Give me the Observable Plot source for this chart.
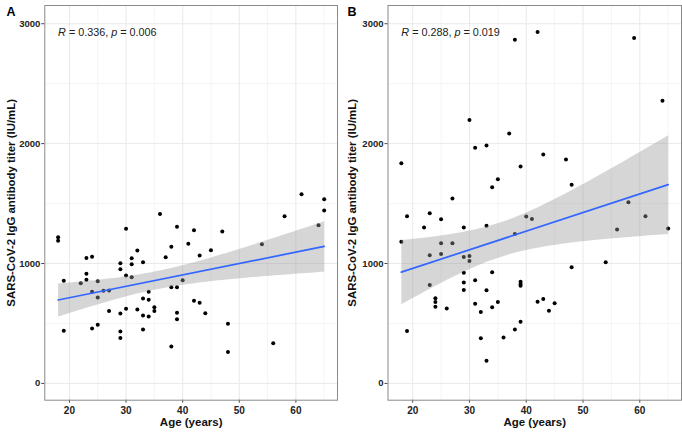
<!DOCTYPE html>
<html><head><meta charset="utf-8">
<script src="https://cdn.jsdelivr.net/npm/d3@7"></script>
<script src="https://cdn.jsdelivr.net/npm/@observablehq/plot@0.6"></script>
<style>
body{margin:0;background:#fff;}
#fig{display:flex;width:682px;height:434px;background:#fff;}
#fig svg g[aria-label="y-axis tick label"] text,
#fig svg g[aria-label="x-axis tick label"] text{font-weight:bold;}
</style></head><body><div id="fig"></div>
<script>
// ---- data ----
const agesA = [18,18,19,19,22,23,23,23,24,24,24,25,25,25,26,27,27,29,29,29,29,29,30,30,30,31,31,31,32,32,33,33,33,33,34,34,34,35,35,36,37,38,38,38,39,39,39,39,40,41,42,42,43,43,44,45,47,48,48,54,56,58,61,64,65,65];
const titerA = [1220,1190,856,439,836,1047,914,864,1056,764,458,853,717,489,772,775,603,1003,953,583,433,378,1289,900,622,1044,994,886,1108,617,1011,708,567,450,764,697,558,636,603,1414,1053,1139,803,308,1306,803,589,536,861,1164,1278,689,1067,672,586,1111,1267,497,261,1161,336,1395,1578,1320,1536,1442];

const agesB = [18,18,19,19,22,23,23,23,24,24,24,25,25,25,26,27,27,29,29,29,29,29,30,30,30,31,31,31,32,32,33,33,33,33,34,34,34,35,35,36,37,38,38,38,39,39,39,39,39,40,41,42,42,43,43,44,45,47,48,48,54,56,58,59,61,64,65];
const titerB = [1836,1182,1395,437,1301,1420,1068,820,710,678,639,1370,1169,1080,625,1542,1169,1301,1055,924,841,780,2198,1062,1022,1965,860,665,595,376,1984,1316,777,190,1636,927,636,1703,680,382,2084,2866,1247,450,1809,848,830,814,515,1393,1372,2930,681,1909,704,607,668,1867,1658,968,1011,1283,1510,2880,1395,2357,1292];

const panelLetters = ["A", "B"];
const statR = ["0.336", "0.288"];
const statP = ["0.006", "0.019"];
const xTicks = [20, 30, 40, 50, 60];
const xMinor = [25, 35, 45, 55, 65];
const yTicks = [0, 1000, 2000, 3000];
const yMinor = [500, 1500, 2500];
const xTitle = "Age (years)";
const yTitle = "SARS-CoV-2 IgG antibody titer (IU/mL)";
const labelAge = 18, labelTiter = 2930;

const FONT = "'Liberation Sans', Arial, Helvetica, sans-serif";

function panel(ages, titers, letter, r, p, mLeft, mRight) {
  const data = ages.map((a, i) => ({age: a, titer: titers[i]}));
  const label = [{x: labelAge, y: labelTiter, t: `R = ${r}, p = ${p}`}];
  const svg = Plot.plot({
    width: 341, height: 434,
    marginLeft: mLeft, marginRight: mRight, marginTop: 5, marginBottom: 34.3,
    style: {fontFamily: FONT, fontSize: "9.5px", color: "#222", background: "#fff", overflow: "visible"},
    x: {domain: [15.65, 67.35]},
    y: {domain: [-140, 3152]},
    marks: [
      Plot.gridX(xMinor, {stroke: "#f3f3f3", strokeOpacity: 1, strokeWidth: 0.8}),
      Plot.gridY(yMinor, {stroke: "#f3f3f3", strokeOpacity: 1, strokeWidth: 0.8}),
      Plot.gridX(xTicks, {stroke: "#e9e9e9", strokeOpacity: 1, strokeWidth: 1}),
      Plot.gridY(yTicks, {stroke: "#e9e9e9", strokeOpacity: 1, strokeWidth: 1}),
      Plot.axisX({ticks: xTicks, tickFormat: d => String(d), tickSize: 3, tickPadding: 3.5, label: null, stroke: "#444", fill: "#222", fontSize: 10}),
      Plot.axisY({ticks: yTicks, tickFormat: d => String(d), tickSize: 3, tickPadding: 1.5, label: null, stroke: "#444", fill: "#222", fontSize: 9.5}),
      Plot.dot(data, {x: "age", y: "titer", r: 2, fill: "#000", stroke: "none"}),
      Plot.linearRegressionY(data, {x: "age", y: "titer", stroke: "#3366FF", strokeWidth: 1.7, fill: "#999999", fillOpacity: 0.4, ci: 0.95}),
      Plot.text(label, {x: "x", y: "y", text: "t", textAnchor: "start", lineAnchor: "middle", fontSize: 10.8, fill: "#222"}),
      Plot.text([letter], {text: d => d, frameAnchor: "top-left", dx: 6 - mLeft, dy: 6.5, textAnchor: "start", lineAnchor: "middle", fontSize: 12.5, fontWeight: "bold", fill: "#000"}),
      Plot.text([xTitle], {text: d => d, frameAnchor: "bottom", dy: 22.5, textAnchor: "middle", lineAnchor: "middle", fontSize: 11.5, fontWeight: "bold", fill: "#111"}),
      Plot.text([yTitle], {text: d => d, frameAnchor: "left", dx: 10.5 - mLeft, rotate: -90, textAnchor: "middle", lineAnchor: "middle", fontSize: 11.4, fontWeight: "bold", fill: "#111"}),
      Plot.frame({stroke: "#8a8a8a", strokeWidth: 1})
    ]
  });
  // italicise R and p in the statistic label
  d3.select(svg).selectAll("text").each(function() {
    const t = this.textContent;
    if (t.startsWith("R = ")) {
      const sel = d3.select(this);
      sel.text(null);
      sel.append("tspan").attr("font-style", "italic").text("R");
      sel.append("tspan").text(` = ${r}, `);
      sel.append("tspan").attr("font-style", "italic").text("p");
      sel.append("tspan").text(` = ${p}`);
    }
  });
  return svg;
}

const fig = document.getElementById("fig");
fig.appendChild(panel(agesA, titerA, panelLetters[0], statR[0], statP[0], 44.3, 4));
fig.appendChild(panel(agesB, titerB, panelLetters[1], statR[1], statP[1], 46.5, 1));
</script>
</body></html>
